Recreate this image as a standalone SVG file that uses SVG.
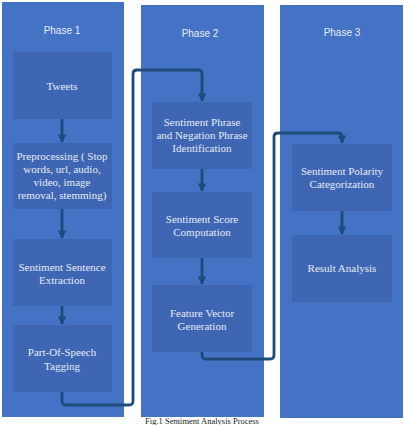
<svg xmlns="http://www.w3.org/2000/svg" width="404" height="425" viewBox="0 0 404 425">
<style>
.col{fill:#4472C4;}
.box{fill:#3F66B3;}
.ph{font-family:"Liberation Sans","Open Sans",sans-serif;font-size:10px;fill:#E6ECF8;text-anchor:middle;}
.bt{font-family:"Liberation Serif",serif;font-size:11px;fill:#E4EAF6;text-anchor:middle;}
.cn{fill:none;stroke:#1F4A7C;stroke-width:2.8;stroke-linejoin:round;}
.cap{font-family:"Liberation Serif",serif;font-size:8.5px;fill:#222;text-anchor:middle;}
</style>
<defs>
<marker id="ah" viewBox="0 0 10 10" refX="9" refY="5" markerWidth="3" markerHeight="3" orient="auto" markerUnits="strokeWidth">
<path d="M0,0 L10,5 L0,10 z" fill="#1F4A7C"/>
</marker>
</defs>
<rect width="404" height="425" fill="#FFFFFF"/>
<g id="phase1">
<rect class="col" x="2" y="2" width="122" height="415"/>
<text class="ph" x="62" y="34">Phase 1</text>
</g>
<g id="phase2">
<rect class="col" x="141" y="5" width="123" height="412"/>
<text class="ph" x="200" y="37">Phase 2</text>
</g>
<g id="phase3">
<rect class="col" x="280" y="5" width="123" height="413"/>
<text class="ph" x="342" y="36">Phase 3</text>
</g>
<g id="tweets">
<rect class="box" x="13" y="52" width="99" height="67"/>
<text class="bt" x="62" y="90">Tweets</text>
</g>
<g id="preprocessing">
<rect class="box" x="13" y="143" width="99" height="66"/>
<text class="bt" x="62" y="160">Preprocessing ( Stop</text>
<text class="bt" x="62" y="173">words, url, audio,</text>
<text class="bt" x="62" y="186">video, image</text>
<text class="bt" x="62" y="199">removal, stemming)</text>
</g>
<g id="sentence-extraction">
<rect class="box" x="13" y="239" width="99" height="67"/>
<text class="bt" x="62" y="271">Sentiment Sentence</text>
<text class="bt" x="62" y="284">Extraction</text>
</g>
<g id="pos-tagging">
<rect class="box" x="13" y="325" width="99" height="67"/>
<text class="bt" x="62" y="356">Part-Of-Speech</text>
<text class="bt" x="62" y="370">Tagging</text>
</g>
<g id="phrase-identification">
<rect class="box" x="152" y="102" width="100" height="67"/>
<text class="bt" x="202" y="126">Sentiment Phrase</text>
<text class="bt" x="202" y="139">and Negation Phrase</text>
<text class="bt" x="202" y="152">Identification</text>
</g>
<g id="score-computation">
<rect class="box" x="152" y="192" width="100" height="66"/>
<text class="bt" x="202" y="223">Sentiment Score</text>
<text class="bt" x="202" y="236">Computation</text>
</g>
<g id="feature-vector">
<rect class="box" x="152" y="285" width="100" height="67"/>
<text class="bt" x="202" y="317">Feature Vector</text>
<text class="bt" x="202" y="330">Generation</text>
</g>
<g id="polarity-categorization">
<rect class="box" x="292" y="144" width="100" height="67"/>
<text class="bt" x="342" y="175">Sentiment Polarity</text>
<text class="bt" x="342" y="188">Categorization</text>
</g>
<g id="result-analysis">
<rect class="box" x="292" y="235" width="100" height="67"/>
<text class="bt" x="342" y="272">Result Analysis</text>
</g>
<g id="connectors">
<path class="cn" marker-end="url(#ah)" d="M62,119 V142"/>
<path class="cn" marker-end="url(#ah)" d="M62,209 V238"/>
<path class="cn" marker-end="url(#ah)" d="M62,306 V324"/>
<path class="cn" marker-end="url(#ah)" d="M62,392 V401 Q62,405 66,405 H129 Q133,405 133,401 V74 Q133,70 137,70 H198 Q202,70 202,74 V101"/>
<path class="cn" marker-end="url(#ah)" d="M202,169 V191"/>
<path class="cn" marker-end="url(#ah)" d="M202,258 V284"/>
<path class="cn" marker-end="url(#ah)" d="M202,352 V355 Q202,359 206,359 H270 Q274,359 274,355 V137 Q274,133 278,133 H338 Q342,133 342,137 V143"/>
<path class="cn" marker-end="url(#ah)" d="M342,211 V234"/>
</g>
<text class="cap" x="202" y="424">Fig.1 Sentiment Analysis Process</text>
</svg>
